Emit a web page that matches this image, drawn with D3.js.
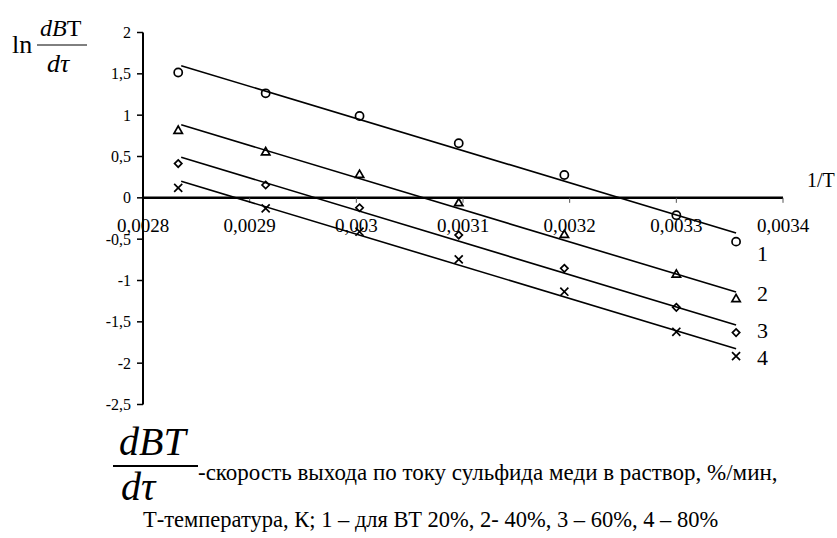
<!DOCTYPE html>
<html>
<head>
<meta charset="utf-8">
<script src="https://cdn.jsdelivr.net/npm/d3@7"></script>
<style>
  html, body { margin: 0; padding: 0; background: #fff; }
  svg text { font-family: "Liberation Serif", "Tinos", "Times New Roman", "DejaVu Serif", serif; fill: #000; }
</style>
</head>
<body>
<svg id="chart" width="837" height="538" font-family="Liberation Serif, Times New Roman, serif"></svg>
<script>
// ---- data ----
const invT = [0.002833, 0.002915, 0.003003, 0.003096, 0.003195, 0.003300, 0.003356];
const series1 = [1.516, 1.264, 0.99, 0.66, 0.276, -0.21, -0.53];   // ВТ 20%
const series2 = [0.81, 0.55, 0.276, -0.066, -0.45, -0.93, -1.227];  // ВТ 40%
const series3 = [0.415, 0.155, -0.12, -0.45, -0.853, -1.325, -1.63]; // ВТ 60%
const series4 = [0.12, -0.127, -0.41, -0.744, -1.136, -1.62, -1.914]; // ВТ 80%
const seriesLabels = ["1", "2", "3", "4"];
const xTicks = [0.0028, 0.0029, 0.003, 0.0031, 0.0032, 0.0033, 0.0034];
const xTickLabels = ["0,0028", "0,0029", "0,003", "0,0031", "0,0032", "0,0033", "0,0034"];
const yTicks = [2, 1.5, 1, 0.5, 0, -0.5, -1, -1.5, -2, -2.5];
const yTickLabels = ["2", "1,5", "1", "0,5", "0", "-0,5", "-1", "-1,5", "-2", "-2,5"];

const allSeries = [series1, series2, series3, series4];
const symbols = [d3.symbolCircle, d3.symbolTriangle2, d3.symbolDiamond2, d3.symbolX];
const symSizes = [52, 50, 34, 44];

const svg = d3.select("#chart");
const x = d3.scaleLinear().domain([0.0028, 0.0034]).range([143, 783]);
const y = d3.scaleLinear().domain([-2.5, 2]).range([404.5, 32.5]);

// y axis
svg.append("line").attr("x1", x(0.0028)).attr("x2", x(0.0028))
  .attr("y1", y(2)).attr("y2", y(-2.5)).attr("stroke", "#000").attr("stroke-width", 2);
svg.selectAll(".ytick").data(yTicks).join("line")
  .attr("x1", x(0.0028) - 6).attr("x2", x(0.0028))
  .attr("y1", d => y(d)).attr("y2", d => y(d))
  .attr("stroke", "#000").attr("stroke-width", 1.5);
svg.selectAll(".ylab").data(yTicks).join("text")
  .attr("x", 131).attr("y", d => y(d)).attr("dy", "0.35em")
  .attr("text-anchor", "end").attr("font-size", 16)
  .text((d, i) => yTickLabels[i]);

// x axis at y = 0
svg.append("line").attr("x1", x(0.0028)).attr("x2", x(0.0034))
  .attr("y1", y(0)).attr("y2", y(0)).attr("stroke", "#000").attr("stroke-width", 2.5);
svg.selectAll(".xtick").data(xTicks.slice(1)).join("line")
  .attr("x1", d => x(d)).attr("x2", d => x(d))
  .attr("y1", y(0)).attr("y2", y(0) + 5)
  .attr("stroke", "#555").attr("stroke-width", 1);
svg.selectAll(".xlab").data(xTicks).join("text")
  .attr("x", d => x(d)).attr("y", 232)
  .attr("text-anchor", "middle").attr("font-size", 19)
  .text((d, i) => xTickLabels[i]);
svg.append("text").attr("x", 807).attr("y", 187).attr("font-size", 20).text("1/T");

// regression lines
function fit(ys) {
  const mx = d3.mean(invT), my = d3.mean(ys);
  const sxy = d3.sum(invT, (v, i) => (v - mx) * (ys[i] - my));
  const sxx = d3.sum(invT, v => (v - mx) * (v - mx));
  const b = sxy / sxx;
  return v => my + b * (v - mx);
}
allSeries.forEach((ys, si) => {
  const f = fit(ys);
  const x0 = invT[0], x1 = invT[invT.length - 1];
  svg.append("line")
    .attr("x1", x(x0) + 3).attr("y1", y(f(x0)))
    .attr("x2", x(x1)).attr("y2", y(f(x1)))
    .attr("stroke", "#000").attr("stroke-width", 1.6);
});

// markers
allSeries.forEach((ys, si) => {
  const sym = d3.symbol().type(symbols[si]).size(symSizes[si]);
  svg.selectAll(".m" + si).data(ys).join("path")
    .attr("transform", (d, i) => `translate(${x(invT[i])},${y(d)})`)
    .attr("d", sym)
    .attr("fill", "none").attr("stroke", "#000").attr("stroke-width", 1.7);
});

// series labels
const labelY = [253, 293, 330, 357];
seriesLabels.forEach((t, i) => {
  svg.append("text").attr("x", 757).attr("y", labelY[i]).attr("dy", "0.35em")
    .attr("font-size", 22).text(t);
});

// y-axis title: ln dBT/dτ
svg.append("text").attr("x", 12).attr("y", 53).attr("font-size", 26).text("ln");
const num = svg.append("text").attr("x", 40).attr("y", 36).attr("font-size", 24);
num.append("tspan").attr("font-style", "italic").text("dB");
num.append("tspan").text("T");
svg.append("line").attr("x1", 37).attr("x2", 87).attr("y1", 45).attr("y2", 45)
  .attr("stroke", "#000").attr("stroke-width", 1);
svg.append("text").attr("x", 47).attr("y", 72).attr("font-size", 26)
  .attr("font-style", "italic").text("dτ");

// caption
svg.append("text").attr("x", 119).attr("y", 455).attr("font-size", 40)
  .attr("font-style", "italic").text("dBT");
svg.append("line").attr("x1", 113).attr("x2", 198).attr("y1", 466).attr("y2", 466)
  .attr("stroke", "#000").attr("stroke-width", 2);
svg.append("text").attr("x", 121).attr("y", 500).attr("font-size", 40)
  .attr("font-style", "italic").text("dτ");
svg.append("text").attr("x", 198).attr("y", 480).attr("font-size", 23)
  .text("-скорость выхода по току сульфида меди в раствор, %/мин,");
svg.append("text").attr("x", 143).attr("y", 527).attr("font-size", 22.5)
  .text("Т-температура, К; 1 – для ВТ 20%, 2- 40%, 3 – 60%, 4 – 80%");
</script>
</body>
</html>
